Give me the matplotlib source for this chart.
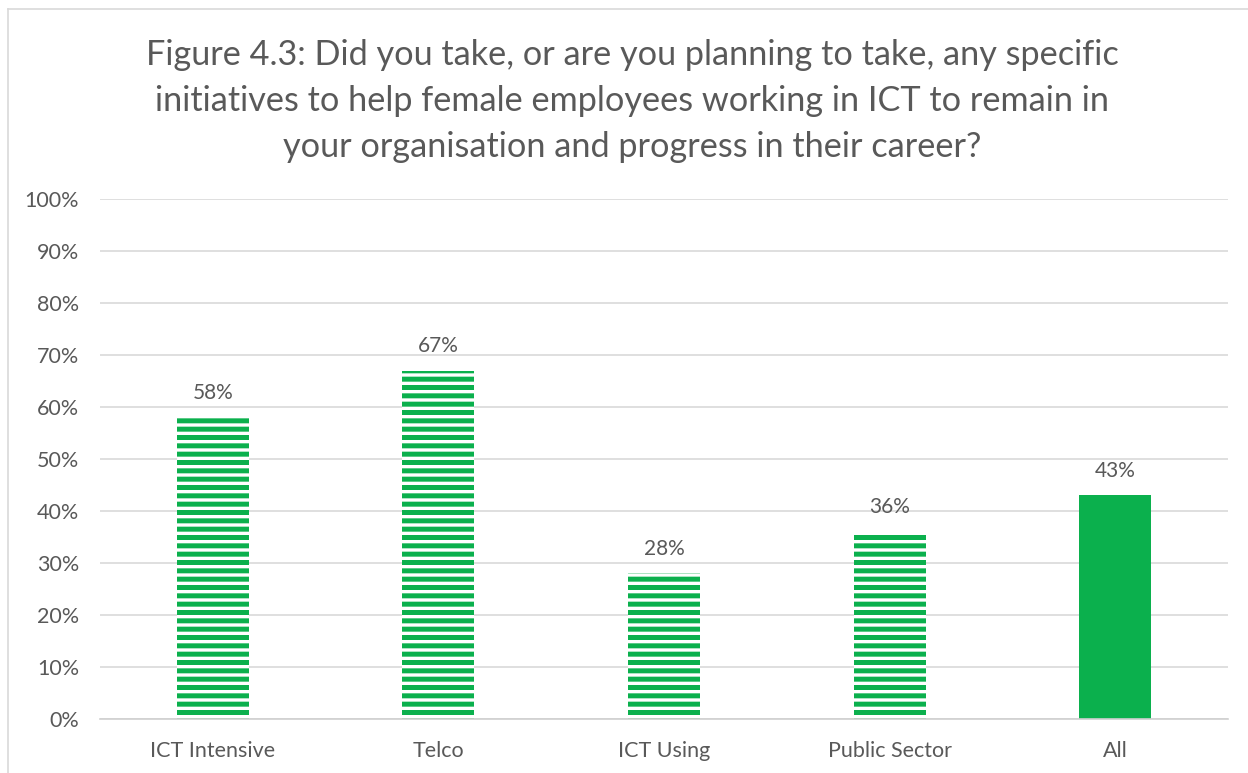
import matplotlib.pyplot as plt
from matplotlib.lines import Line2D
from matplotlib.ticker import PercentFormatter

plt.rcParams['font.family'] = ['Lato', 'DejaVu Sans']
plt.rcParams['hatch.linewidth'] = 3.6

categories = ["ICT Intensive", "Telco", "ICT Using", "Public Sector", "All"]
values = [58, 67, 28, 36, 43]
striped = [True, True, True, True, False]

green = "#0bb04d"
grey_text = "#595959"

fig = plt.figure(figsize=(12.48, 7.73), dpi=100)
ax = fig.add_axes([100 / 1248, 54 / 773, 1128 / 1248, 520 / 773])

x = range(len(categories))
for i, (v, s) in enumerate(zip(values, striped)):
    if s:
        ax.bar(i, v, width=0.32, facecolor="white", edgecolor=green,
               hatch="--", linewidth=0, zorder=2)
    else:
        ax.bar(i, v, width=0.32, color=green, linewidth=0, zorder=2)
    ax.text(i, v + 2.8, f"{v}%", ha="center", va="bottom",
            fontsize=15, color=grey_text)

ax.set_xlim(-0.5, len(categories) - 0.5)
ax.set_ylim(0, 100)
ax.set_yticks(range(0, 101, 10))
ax.yaxis.set_major_formatter(PercentFormatter(decimals=0))
ax.set_xticks(list(x))
ax.set_xticklabels(categories)
ax.tick_params(axis="both", length=0, labelsize=15.5, labelcolor=grey_text)
ax.tick_params(axis="x", pad=16)
ax.tick_params(axis="y", pad=15)
ax.grid(axis="y", color="#d9d9d9", linewidth=1.2, zorder=0)
ax.set_axisbelow(True)
for side in ["top", "right", "left"]:
    ax.spines[side].set_visible(False)
ax.spines["bottom"].set_color("#d0d0d0")
ax.spines["bottom"].set_linewidth(1.2)

fig.text(632 / 1248, 1 - 101 / 773,
         "Figure 4.3: Did you take, or are you planning to take, any specific\n"
         "initiatives to help female employees working in ICT to remain in\n"
         "your organisation and progress in their career?",
         ha="center", va="center", fontsize=24.7, color=grey_text,
         linespacing=1.55)

# light border on top and left like the source screenshot
fig.add_artist(Line2D([8 / 1248, 8 / 1248], [0, 1 - 9 / 773],
                      transform=fig.transFigure, color="#d9d9d9", lw=1.2))
fig.add_artist(Line2D([8 / 1248, 1], [1 - 9 / 773, 1 - 9 / 773],
                      transform=fig.transFigure, color="#d9d9d9", lw=1.2))

fig.savefig("out.png", dpi=100)
